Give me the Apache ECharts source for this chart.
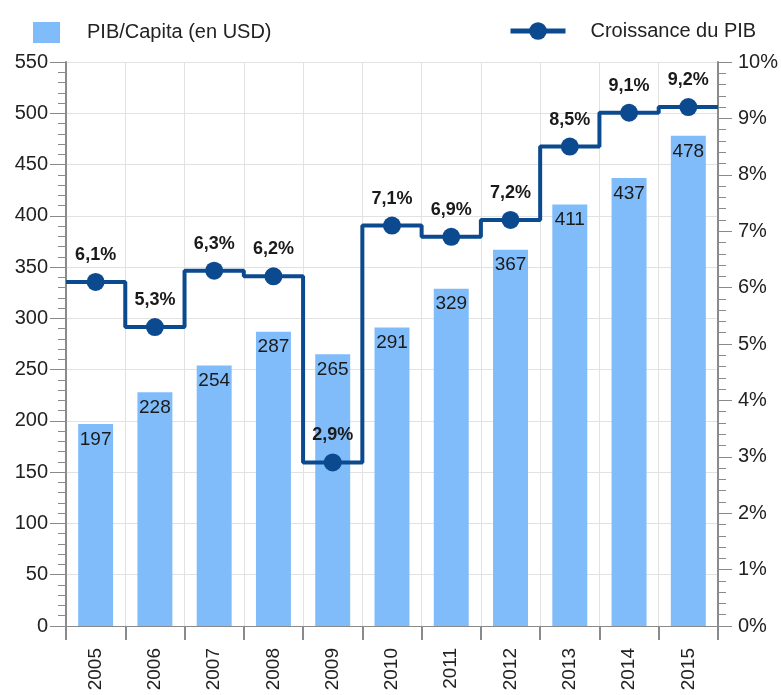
<!DOCTYPE html>
<html>
<head>
<meta charset="utf-8">
<script src="https://cdn.jsdelivr.net/npm/echarts@6/dist/echarts.min.js"></script>
<style>
  html, body { margin: 0; padding: 0; background: #fff; }
  #chart { width: 781px; height: 695px; }
</style>
</head>
<body>
<div id="chart"></div>
<script>
// données
const years = ['2005', '2006', '2007', '2008', '2009', '2010', '2011', '2012', '2013', '2014', '2015']
const pibCapita = [197, 228, 254, 287, 265, 291, 329, 367, 411, 437, 478]
const croissance = [6.1, 5.3, 6.3, 6.2, 2.9, 7.1, 6.9, 7.2, 8.5, 9.1, 9.2]

const font = 'Liberation Sans, Arial, sans-serif'
const barColor = '#80bcfa'
const lineColor = '#0b4a8f'
const axisGrey = '#8a8a8a'

// ligne en escalier étendue jusqu'aux bords du graphique
const last = croissance.length - 1
const stepData = [{ value: [-0.5, croissance[0]], symbol: 'none', label: { show: false } }]
croissance.forEach((v, i) => stepData.push([i, v]))
stepData.push({ value: [last + 0.5, croissance[last]], symbol: 'none', label: { show: false } })

let myChart = echarts.init(document.getElementById('chart'))

let option = {
  animation: false,
  textStyle: { fontFamily: font },
  legend: [
    {
      data: [{ name: 'PIB/Capita (en USD)', icon: 'rect' }],
      left: 28,
      top: 17,
      itemWidth: 27,
      itemHeight: 21,
      textStyle: { fontSize: 20, color: '#222', padding: [0, 0, 0, 22], fontFamily: font }
    },
    {
      data: ['Croissance du PIB'],
      left: 503,
      top: 16,
      itemWidth: 55,
      itemHeight: 22,
      lineStyle: { width: 5 },
      textStyle: { fontSize: 20, color: '#222', padding: [0, 0, 0, 20], fontFamily: font }
    }
  ],
  grid: { left: 66, right: 60, top: 62, bottom: 69, containLabel: false },
  xAxis: [
    {
      type: 'category',
      data: years,
      boundaryGap: true,
      axisLine: { lineStyle: { color: axisGrey, width: 1 } },
      axisTick: { show: true, length: 14, lineStyle: { color: axisGrey, width: 2 } },
      axisLabel: { rotate: 90, fontSize: 19, color: '#222', margin: 22, fontFamily: font },
      splitLine: { show: true, lineStyle: { color: '#e2e2e2' } }
    },
    {
      type: 'value',
      min: -0.5,
      max: last + 0.5,
      show: false
    }
  ],
  yAxis: [
    {
      type: 'value',
      min: 0,
      max: 550,
      interval: 50,
      axisLine: { show: true, onZero: false, lineStyle: { color: axisGrey, width: 2 } },
      axisTick: { show: true, length: 16, lineStyle: { color: axisGrey, width: 1 } },
      minorTick: { show: true, splitNumber: 5, length: 8, lineStyle: { color: axisGrey } },
      axisLabel: { fontSize: 20, color: '#222', margin: 18, fontFamily: font },
      splitLine: { show: true, lineStyle: { color: '#e2e2e2' } }
    },
    {
      type: 'value',
      min: 0,
      max: 10,
      interval: 1,
      position: 'right',
      axisLine: { show: true, onZero: false, lineStyle: { color: axisGrey, width: 2 } },
      axisTick: { show: true, length: 14, lineStyle: { color: axisGrey, width: 1 } },
      minorTick: { show: true, splitNumber: 5, length: 8, lineStyle: { color: axisGrey } },
      axisLabel: { fontSize: 20, color: '#222', margin: 20, formatter: '{value}%', fontFamily: font },
      splitLine: { show: false }
    }
  ],
  series: [
    {
      name: 'PIB/Capita (en USD)',
      type: 'bar',
      data: pibCapita,
      barWidth: '59%',
      itemStyle: { color: barColor },
      label: {
        show: true,
        position: 'insideTop',
        distance: 6,
        fontSize: 19,
        color: '#1a1a1a',
        fontFamily: font
      }
    },
    {
      name: 'Croissance du PIB',
      type: 'line',
      xAxisIndex: 1,
      yAxisIndex: 1,
      step: 'middle',
      data: stepData,
      symbol: 'circle',
      symbolSize: 18,
      itemStyle: { color: lineColor },
      lineStyle: { color: lineColor, width: 4 },
      z: 5,
      label: {
        show: true,
        position: 'top',
        distance: 9,
        fontSize: 18,
        fontWeight: 'bold',
        color: '#1a1a1a',
        fontFamily: font,
        formatter: p => String(p.value[1].toFixed(1)).replace('.', ',') + '%'
      }
    }
  ]
}
myChart.setOption(option)
</script>
</body>
</html>
